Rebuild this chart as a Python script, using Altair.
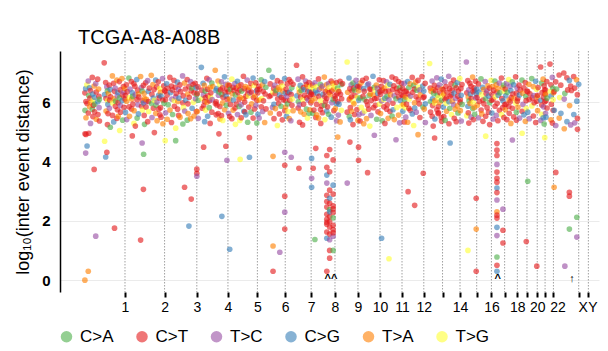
import altair as alt
import pandas as pd
import numpy as np

FONT = "Liberation Sans"
sample_id = "TCGA-A8-A08B"

chrom_names = ["1", "2", "3", "4", "5", "6", "7", "8", "9", "10", "11", "12",
               "13", "14", "15", "16", "17", "18", "19", "20", "21", "22", "X", "Y"]
chrom_len_mb = [249.25, 243.20, 198.02, 191.15, 180.92, 171.12, 159.14, 146.36,
                141.21, 135.53, 135.01, 133.85, 115.17, 107.35, 102.53, 90.35,
                81.20, 78.08, 59.13, 63.03, 48.13, 51.30, 155.27, 59.37]
tick_labels = ["1", "2", "3", "4", "5", "6", "7", "8", "9", "10", "11", "12",
               "", "14", "", "16", "", "18", "", "20", "", "22", "X", "Y"]
y_ticks = [0, 2, 4, 6]

subst_labels = ["C>A", "C>T", "T>C", "C>G", "T>A", "T>G"]
subst_codes = ["G", "R", "P", "B", "O", "Y"]
subst_colors = ["#4DAF4A", "#E41A1C", "#984EA3", "#377EB8", "#FF7F00", "#FFFF33"]

# log10 inter-event distance of each mutation, per chromosome, in genome order
y_values = {
    "1": [6.31, 0.00, 5.72, 4.93, 6.45, 4.28, 6.02, 5.47, 4.91, 6.58,
          5.95, 4.52, 6.71, 0.30, 5.63, 6.22, 4.95, 6.48, 5.84, 6.13,
          6.39, 5.28, 5.99, 6.83, 5.76, 6.27, 5.51, 6.06, 5.89, 6.54,
          3.73, 6.16, 5.67, 5.93, 6.62, 1.48, 6.34, 5.42, 6.77, 6.01,
          5.58, 6.44, 6.19, 5.81, 6.09, 5.36, 7.32, 6.25, 4.68, 6.66,
          4.15, 6.12, 5.70, 6.51, 4.31, 6.38, 5.24, 6.04, 5.92, 5.61,
          6.29, 6.57, 5.79, 6.07, 6.42, 5.15, 6.18, 6.88, 5.55, 5.97,
          6.63, 5.33, 6.11, 6.36, 1.75, 6.47, 5.86, 6.03, 6.74, 5.45,
          6.21, 5.74, 6.32, 5.98, 5.52, 6.69, 6.14, 5.04, 6.41, 5.88,
          5.66, 6.79, 6.05, 6.24, 5.39, 6.52, 6.33, 5.82, 6.46, 6.10],
    "2": [6.22, 5.65, 6.58, 6.03, 5.41, 6.35, 6.81, 5.84, 6.15, 5.52,
          6.44, 6.69, 5.77, 6.10, 6.31, 4.86, 6.19, 5.93, 6.62, 5.28,
          5.71, 6.53, 6.24, 5.19, 6.76, 6.08, 5.46, 6.40, 5.91, 6.27,
          5.60, 6.17, 6.86, 1.35, 6.49, 5.86, 6.37, 4.62, 6.04, 5.73,
          6.56, 3.06, 5.97, 4.24, 6.29, 5.55, 6.12, 5.25, 6.65, 6.01,
          5.83, 6.09, 6.72, 5.34, 6.36, 6.02, 5.68, 6.47, 6.90, 5.95,
          6.26, 5.48, 6.59, 6.13, 5.79, 6.42, 6.06, 4.97, 6.74, 5.62,
          5.89, 6.51, 6.00, 5.37, 6.68, 6.23, 5.76, 6.14, 6.45, 5.57,
          6.33, 5.81, 6.20, 5.49, 6.79, 6.07, 5.27, 6.55, 5.96, 6.39],
    "3": [6.37, 4.70, 6.08, 5.64, 6.61, 6.24, 5.42, 6.46, 5.91, 6.83,
          5.73, 6.32, 6.54, 5.31, 6.10, 6.41, 5.58, 6.73, 6.05, 5.86,
          6.50, 6.18, 4.70, 5.12, 6.29, 6.67, 5.76, 6.02, 6.43, 5.55,
          6.13, 6.58, 5.49, 6.35, 6.88, 5.97, 5.26, 6.21, 5.82, 6.64,
          3.13, 5.70, 6.44, 6.06, 6.76, 5.39, 6.27, 5.94, 5.61, 6.52,
          1.82, 6.16, 6.69, 5.44, 6.38, 2.73, 6.47, 5.79, 6.59, 5.99,
          6.31, 5.53, 6.63, 6.11, 6.48, 5.68, 6.25, 3.74, 3.60, 3.50],
    "4": [6.29, 5.68, 6.51, 6.06, 5.45, 7.17, 6.40, 6.12, 5.79, 6.63,
          6.24, 5.87, 4.48, 6.56, 6.02, 5.34, 6.37, 6.15, 5.73, 6.80,
          5.99, 6.43, 5.52, 6.21, 6.75, 5.81, 6.04, 6.49, 5.28, 6.17,
          6.31, 6.64, 5.66, 6.08, 6.52, 7.07, 5.95, 6.39, 6.01, 5.57,
          6.45, 5.90, 6.71, 5.61, 6.23, 6.34, 4.93, 6.58, 5.85, 5.43,
          6.41, 6.68, 5.54, 6.26, 2.15, 6.48, 5.97, 5.38, 6.16, 6.85,
          5.74, 6.33, 6.60, 4.51, 6.20, 5.89, 6.44, 4.04, 6.09, 6.57],
    "5": [6.35, 5.62, 6.56, 6.10, 5.51, 1.04, 6.43, 5.92, 6.77, 5.44,
          6.28, 6.50, 5.73, 6.07, 6.39, 6.62, 5.80, 6.24, 5.25, 6.47,
          5.93, 6.70, 5.58, 6.32, 6.54, 6.09, 5.85, 6.41, 5.38, 6.16,
          4.07, 6.58, 5.91, 5.47, 6.37, 6.87, 6.12, 5.69, 6.45, 6.00,
          5.67, 6.52, 6.19, 5.57, 6.74, 6.28, 5.32, 6.40, 6.21, 5.83,
          6.49, 4.14, 4.80, 6.31, 6.63, 5.66, 6.34, 5.94, 6.81, 5.46,
          6.15, 6.56, 5.77, 6.20, 6.65, 5.89, 6.38, 6.06, 5.29, 6.42],
    "6": [6.31, 5.59, 6.53, 6.07, 5.46, 6.44, 6.75, 5.84, 6.12, 6.58,
          5.68, 6.36, 6.04, 6.69, 5.31, 6.27, 6.50, 5.77, 7.07, 6.19,
          6.61, 5.63, 6.22, 6.84, 5.82, 6.34, 4.17, 1.15, 0.30, 6.46,
          5.92, 5.44, 6.57, 6.29, 5.78, 6.39, 6.72, 5.21, 6.11, 6.49,
          5.95, 6.43, 5.60, 6.24, 0.94, 6.66, 5.86, 6.16, 6.54, 5.40,
          6.37, 6.08, 6.79, 5.71, 4.31, 3.87, 2.83, 2.29, 1.72, 6.30],
    "7": [6.05, 5.83, 6.44, 6.19, 5.52, 6.61, 5.94, 6.32, 5.68, 6.76,
          5.44, 6.34, 6.06, 6.68, 5.37, 6.25, 4.14, 6.48, 5.89, 6.10,
          6.60, 5.71, 7.24, 6.21, 6.77, 5.80, 6.02, 6.45, 3.77, 6.33,
          5.91, 5.32, 6.56, 6.17, 5.67, 6.39, 6.85, 5.23, 6.09, 6.49,
          5.93, 6.42, 5.59, 6.23, 6.71, 6.59, 5.76, 6.14, 6.53, 5.46,
          6.36, 6.07, 6.66, 5.62, 6.35, 6.19, 5.74, 6.51, 5.98, 6.26],
    "8": [6.34, 4.10, 3.43, 3.13, 6.05, 6.57, 5.62, 6.26, 3.77, 6.46,
          5.73, 6.65, 1.37, 6.11, 6.39, 5.48, 4.44, 6.51, 5.92, 5.57,
          6.30, 6.78, 5.46, 6.19, 6.43, 6.60, 5.75, 6.04, 5.28, 6.48,
          5.87, 6.54, 5.64, 6.26, 6.84, 5.89, 6.18, 5.41, 6.35, 6.01,
          6.58, 6.12, 5.70, 4.20, 3.80, 3.54, 2.86, 2.46, 2.22, 2.05,
          1.88, 1.62, 1.41, 0.30, 3.27, 2.65, 1.95, 6.40, 5.84, 6.62,
          5.59, 6.32, 6.50, 4.40, 3.65, 3.03, 2.76, 2.59, 2.38, 2.14,
          1.97, 1.79, 1.55, 1.36, 1.00, 0.74, 2.30, 6.25, 6.71, 5.49,
          6.37, 5.98, 6.63, 6.09, 4.05, 3.20, 2.90, 2.50, 2.28, 2.10,
          1.85, 1.70, 1.48, 1.00, 2.40, 1.60, 6.44, 5.71, 6.55, 6.20],
    "9": [6.12, 5.78, 6.66, 5.95, 5.37, 6.28, 6.47, 6.01, 4.82, 6.39,
          5.56, 6.35, 5.93, 6.70, 5.33, 6.26, 6.59, 5.72, 6.11, 6.62,
          7.35, 5.66, 3.27, 6.33, 6.81, 6.08, 5.51, 6.45, 4.65, 6.13,
          5.81, 5.40, 6.58, 6.18, 5.69, 6.37, 6.64, 5.24, 6.00, 6.47,
          5.94, 6.41, 5.58, 6.22, 6.73, 6.56, 5.75, 6.15, 6.53, 5.38],
    "10": [6.38, 4.48, 4.04, 6.07, 5.58, 6.51, 6.14, 5.36, 6.65, 5.82,
           6.73, 5.63, 6.19, 6.45, 5.27, 6.36, 6.09, 5.70, 6.80, 6.02,
           5.44, 6.58, 5.90, 3.62, 6.61, 5.76, 6.22, 6.44, 5.19, 6.27,
           6.43, 5.55, 6.05, 6.87, 6.24, 5.81, 6.50, 4.88, 6.11, 6.40,
           5.89, 6.57, 6.13, 5.42, 6.46, 6.30, 5.67, 6.75, 5.93, 6.35],
    "11": [6.26, 5.61, 6.53, 6.04, 1.41, 6.40, 5.37, 6.72, 6.09, 5.84,
           6.47, 6.13, 5.28, 6.35, 6.68, 5.76, 6.19, 5.91, 6.57, 5.45,
           6.37, 6.08, 0.72, 6.60, 5.68, 6.25, 6.84, 5.53, 6.42, 5.96,
           5.74, 6.55, 6.21, 5.41, 6.78, 6.11, 4.73, 6.46, 5.82, 6.33,
           6.69, 5.56, 6.17, 6.49, 5.30, 6.38, 6.05, 6.63, 5.87, 6.24],
    "12": [6.46, 5.69, 6.21, 5.92, 6.63, 5.33, 6.08, 6.37, 5.81, 6.17,
           5.49, 6.36, 5.93, 6.69, 5.32, 6.27, 2.98, 6.49, 5.79, 6.10,
           6.61, 5.72, 6.20, 6.83, 5.60, 6.33, 6.56, 5.21, 6.44, 5.97,
           5.80, 2.52, 6.67, 6.18, 5.66, 6.40, 6.73, 4.90, 6.09, 6.50,
           5.94, 6.41, 5.48, 6.24, 6.86, 6.54, 5.83, 6.15, 3.60, 6.37],
    "13": [6.18, 5.77, 6.63, 5.94, 5.31, 7.30, 6.47, 6.02, 5.66, 6.36,
           6.71, 5.52, 6.11, 5.88, 6.42, 5.19, 6.29, 6.56, 5.97, 4.79,
           6.05, 5.43, 6.38, 6.82, 5.74, 6.23, 6.49, 5.61, 6.15, 5.85,
           5.64, 6.58, 5.99, 6.31, 6.77, 5.48, 6.07, 5.35, 6.44, 6.21],
    "14": [6.42, 5.83, 6.27, 5.51, 6.68, 6.09, 5.38, 6.52, 5.96, 6.14,
           5.69, 6.33, 6.87, 6.01, 5.27, 6.45, 5.79, 6.19, 4.62, 6.61,
           6.24, 5.58, 6.40, 6.03, 6.74, 5.91, 6.30, 5.45, 6.57, 5.76,
           6.12, 6.48, 5.34, 6.66, 5.87, 6.20, 5.63, 6.37, 6.79, 5.99],
    "15": [6.08, 5.71, 6.46, 6.23, 5.36, 6.59, 5.92, 7.35, 6.31, 5.54,
           6.72, 5.86, 1.00, 6.17, 5.64, 6.41, 5.29, 6.04, 6.63, 5.95,
           6.26, 6.53, 5.49, 6.12, 6.84, 5.78, 6.35, 6.00, 5.41, 6.48,
           5.82, 6.39, 5.59, 6.70, 6.14, 6.28, 2.76, 1.72, 0.30, 6.44],
    "16": [6.16, 5.89, 6.61, 5.47, 6.34, 6.02, 6.78, 5.73, 6.25, 5.60,
           6.50, 6.07, 5.35, 6.43, 5.94, 6.69, 6.11, 5.52, 4.85, 6.29,
           6.38, 5.81, 6.55, 6.20, 5.66, 6.47, 5.98, 5.24, 6.73, 6.06],
    "17": [6.27, 5.63, 6.52, 6.09, 5.43, 6.40, 6.71, 5.86, 6.18, 6.58,
           5.55, 6.34, 4.60, 4.38, 4.20, 3.90, 3.64, 3.43, 3.30, 3.10,
           2.95, 2.70, 2.30, 2.19, 2.09, 1.78, 1.50, 0.78, 0.50, 0.30,
           5.96, 6.45, 5.37, 6.23, 6.64, 5.72, 6.31, 6.81, 5.58, 6.12,
           6.49, 5.81, 6.04, 2.39, 1.68, 1.25, 6.57, 5.48, 6.36, 5.91],
    "18": [6.44, 5.74, 6.21, 5.93, 6.62, 5.41, 6.33, 6.76, 5.85, 6.07,
           5.62, 6.53, 6.01, 6.39, 5.28, 6.15, 6.68, 5.79, 4.72, 6.27,
           6.58, 5.50, 6.12, 6.85, 5.97, 6.30, 5.66, 5.39, 6.47, 6.03],
    "19": [6.12, 5.83, 6.57, 6.24, 5.46, 6.41, 6.74, 5.69, 4.95, 6.30,
           5.92, 6.48, 5.57, 6.66, 5.35, 6.19, 6.05, 5.78, 1.30, 6.37],
    "20": [6.35, 5.66, 3.33, 6.60, 6.09, 5.44, 6.28, 6.79, 5.87, 6.14,
           6.52, 5.53, 6.22, 5.98, 6.70, 5.31, 6.43, 6.03, 0.47, 6.18],
    "21": [6.23, 5.71, 6.49, 7.18, 6.06, 5.38, 6.64, 5.90, 5.59, 6.32,
           6.77, 5.47, 6.16, 5.84, 6.55, 5.26, 6.40, 6.01, 4.80, 6.27],
    "22": [6.41, 5.62, 6.26, 6.04, 5.49, 6.69, 6.13, 5.80, 7.28, 6.36,
           6.58, 5.40, 6.20, 5.93, 6.83, 5.29, 6.47, 6.08, 5.72, 6.31],
    "X": [6.35, 3.13, 5.72, 6.68, 5.21, 3.63, 6.44, 6.91, 5.46, 6.15,
          6.57, 5.62, 6.98, 6.10, 5.10, 6.29, 0.47, 6.82, 5.34, 6.41,
          6.73, 2.96, 2.83, 1.72, 5.88, 6.54, 5.23, 6.39, 6.86, 5.58,
          6.47, 5.30, 6.75, 6.03, 1.45, 2.12, 6.25, 5.45, 5.08, 6.60],
}

# substitution class of each mutation (G=C>A R=C>T P=T>C B=C>G O=T>A Y=T>G)
sub_types = {
    "1": "ROGRBPRORY RBPORGRBOR RPORGBRYRO RBRGPPRORB RORPGRRBYR "
         "BROPRGRYBR ORPRBGRORY RBORRPRGOR PRBRORGYRP ROBRGRPROR",
    "2": "RBROPRGRYO PRROBRGRRY ORPRBRGRPO BRORPRGPRY RRBGOROGRP "
         "ROPRBRYROG RPOBRRYRBO GRPORBRRYR ORBRPRORGR",
    "3": "RYRPBRORGR OBRRPRGRYR RPGYRBROPR BRORPRGRYO RPRBRGOROR "
         "BRPORRGBRY RORPBRGRRP",
    "4": "RORGPBRYRB PRRORBGRYR ORBRPGRORY RGRPOORBRR BRORPGRYRO "
         "RPRGBROYRB ORPRBGRPRO",
    "5": "RPRORBGRYR OROBRPRGYR RBPRORGRYO YRPRGROBRR RORBPRGRYR "
         "OBRPRGROBR RYRORPBRGR",
    "6": "RBROPRGRYO PRRBORGRGR RORBPYOORR BRPROGRYRO RORBPRGRYR "
         "ORBRPRRPRB",
    "7": "RORPBRGRYR OBRRPRPGRY RORBPRGYRO PRBROGRRYR RBORPRGROY "
         "RPRGBROYRR",
    "8": "RBPBORGRRY RPGOBRRYRO BRORPGRYRO RPRBOGRYRR ORBRRBRRRR "
         "RRBRPRRORP GRYRRRBRGR RRRPRRBORB RPOGRBRRRG RRPGRRORYR",
    "9": "RORBPRGROY PRBRORGYRR YRPOBRGRRO RBPRORGRYR OGRRPBRYRO",
    "10": "ORRBPRGROY RPRBORGYRR OBRRPRGRYO RPRBORGPRY RORGPBRRYR",
    "11": "RORPBRGRYR OBRRPRGRYO RPYBRORGRR BRPORGPRYR RORGPRBRYR",
    "12": "RBROPRGRYO PRRBORRGRY ORPRBRGYRO BRORPGRORY RPRORBGRRB",
    "13": "RORBPYRGRO PRBRORGRYR OBRPRGRRYR RPORBRGROY",
    "14": "RBORPRGRYR ORPBRRGRBR RYRORPBRGO PRRBORGRYR",
    "15": "RORBPRGPRY RBYORPRGRO BRPROGRYRR ORGRPBRORB",
    "16": "RORPBRGRYO BRRORPGRYR PROBRRGRYR",
    "17": "RBORPRGRYO PRRRRPRRRB RPORRBPGRB RORBPRGRYR ORBPRRGRYR",
    "18": "ROBRPRGYRO RPRBORGRPR BRORYRGRPR",
    "19": "RORBPRGRYO PRBROGRYRR",
    "20": "RBGORPRGYR ORPRBRYRRO",
    "21": "RORRBPGRYR OBRPRGRRYR",
    "22": "RPORBRGRRY ROBRPRGYRO",
    "X": "ROBRPRGROY RBRPOGPRBR BRRGORPRRB RPOBPGRRRB",
}

# kataegis foci: chromosome, position within chromosome (Mb), glyph
kat_chrom = ["8", "17", "X"]
kat_mb = [122.0, 38.0, 114.0]
kat_glyph = ["^^", "^", "↑"]

# ---- build tables ----
starts = dict(zip(chrom_names, np.concatenate([[0.0], np.cumsum(chrom_len_mb)[:-1]])))
lengths = dict(zip(chrom_names, chrom_len_mb))
ends = [round(float(v), 2) for v in np.cumsum(chrom_len_mb)]
code_to_label = dict(zip(subst_codes, subst_labels))

rows = []
for c in chrom_names:
    if c not in y_values:
        continue
    ys = np.array(y_values[c], dtype=float)
    ts = "".join(sub_types[c].split())
    dist = 10.0 ** ys
    cum = np.cumsum(dist)
    pos = starts[c] + lengths[c] * cum / cum[-1]
    for p, yv, t in zip(pos, ys, ts):
        rows.append({"pos": float(p), "y": float(yv), "type": code_to_label[t], "chrom": c})
df = pd.DataFrame(rows)

chrom_df = pd.DataFrame({"chrom": chrom_names, "end": ends})
kat_df = pd.DataFrame({
    "pos": [starts[c] + m for c, m in zip(kat_chrom, kat_mb)],
    "glyph": kat_glyph,
})

label_expr = ("[" + ",".join("'" + l + "'" for l in tick_labels) + "][indexof(["
              + ",".join(repr(v) for v in ends) + "], datum.value)]")

xscale = alt.Scale(domain=[-150, 3161], nice=False, zero=False)
yscale = alt.Scale(domain=[-0.4, 7.72], nice=False, zero=False)

xaxis = alt.Axis(values=ends, labelExpr=label_expr, title=None, domain=False,
                 grid=False, ticks=True, tickColor="black", tickWidth=2, tickSize=5,
                 labelFontSize=14, labelFont=FONT, labelColor="black", labelPadding=3,
                 labelOverlap=False, labelFlush=False,
                 labelOffset={"condition": {"test": "datum.value > 2850", "value": 4},
                              "value": 0})
yaxis = alt.Axis(values=y_ticks, title="log₁₀(inter event distance)", titleFont=FONT,
                 titleFontSize=18, titleFontWeight="normal", titleColor="black",
                 titlePadding=9, domain=True, domainColor="black", domainWidth=1.5,
                 ticks=False, labelFont=FONT, labelFontSize=15, labelFontWeight="bold",
                 labelColor="black", labelPadding=10, grid=True, gridColor="#ebebeb",
                 gridWidth=1)

rules = alt.Chart(chrom_df).mark_rule(color="#a0a0a0", strokeDash=[1.5, 1.5],
                                      strokeWidth=1).encode(
    x=alt.X("end:Q", scale=xscale, axis=xaxis)
)

points = alt.Chart(df).mark_circle(size=32, opacity=0.62).encode(
    x=alt.X("pos:Q", scale=xscale, axis=xaxis),
    y=alt.Y("y:Q", scale=yscale, axis=yaxis),
    color=alt.Color("type:N",
                    scale=alt.Scale(domain=subst_labels, range=subst_colors),
                    legend=alt.Legend(title=None, orient="none", legendX=-2, legendY=277,
                                      direction="horizontal", symbolType="circle",
                                      symbolSize=133, symbolOpacity=0.6,
                                      symbolStrokeWidth=0, labelFontSize=17,
                                      labelFont=FONT, labelColor="black",
                                      columnPadding=19.5, labelOffset=5, padding=0)),
)

carets = alt.Chart(kat_df).mark_text(fontSize=11, color="black", baseline="middle",
                                     font=FONT, dy=-1, fontWeight="bold").encode(
    x=alt.X("pos:Q", scale=xscale, axis=xaxis),
    y=alt.datum(0),
    text="glyph:N",
)

chart = alt.layer(rules, points, carets).properties(
    width=539, height=241,
    autosize=alt.AutoSizeParams(type="none"),
    padding={"left": 60, "top": 51, "right": 9, "bottom": 59},
    title=alt.TitleParams(text=sample_id, anchor="start", frame="group", fontSize=20,
                          font=FONT, fontWeight="normal", color="black", dx=18, offset=3),
).configure_view(stroke=None)

chart.save("out.html", embed_options={"renderer": "svg", "actions": False})
